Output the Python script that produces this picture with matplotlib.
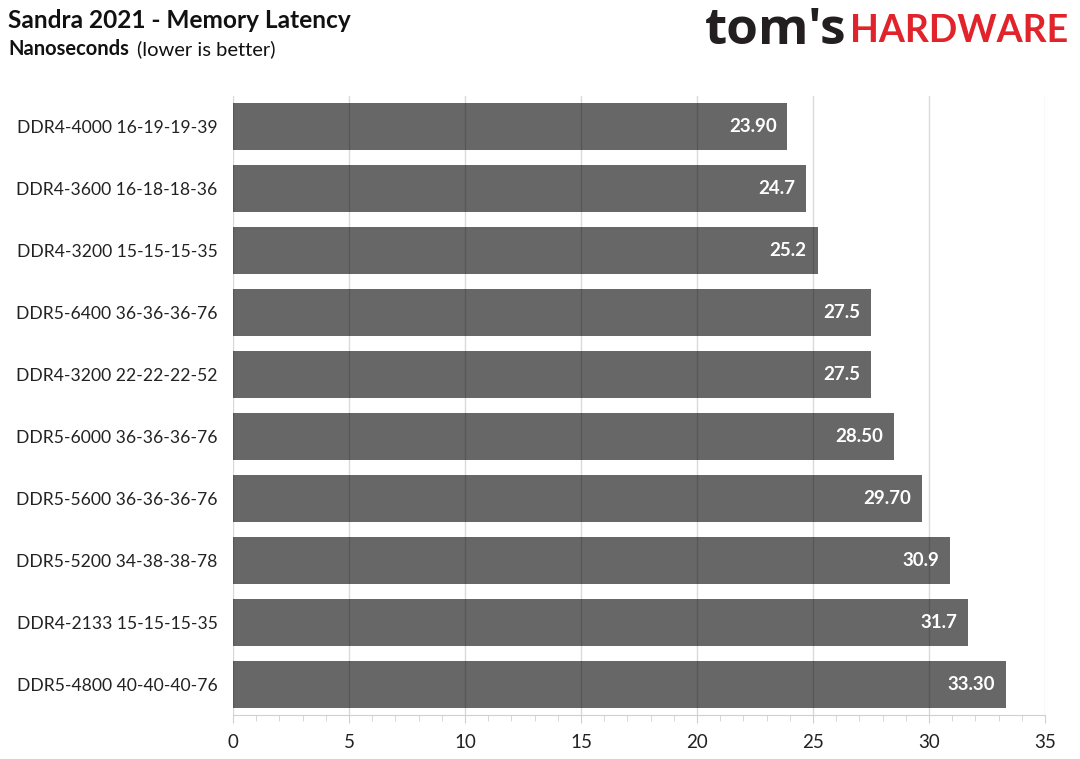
import matplotlib.pyplot as plt
from matplotlib.ticker import MultipleLocator

plt.rcParams['font.family'] = ['Lato', 'DejaVu Sans']

# data, top to bottom as shown
kits = ["DDR4-4000 16-19-19-39", "DDR4-3600 16-18-18-36", "DDR4-3200 15-15-15-35",
        "DDR5-6400 36-36-36-76", "DDR4-3200 22-22-22-52", "DDR5-6000 36-36-36-76",
        "DDR5-5600 36-36-36-76", "DDR5-5200 34-38-38-78", "DDR4-2133 15-15-15-35",
        "DDR5-4800 40-40-40-76"]
latency = [23.90, 24.7, 25.2, 27.5, 27.5, 28.50, 29.70, 30.9, 31.7, 33.30]
value_labels = ["23.90", "24.7", "25.2", "27.5", "27.5", "28.50", "29.70", "30.9", "31.7", "33.30"]
x_ticks = [0, 5, 10, 15, 20, 25, 30, 35]

W, H = 1080, 759
fig = plt.figure(figsize=(W / 100, H / 100), dpi=100)
ax = fig.add_axes([233 / W, 1 - 715 / H, (1045 - 233) / W, (715 - 96) / H])

pos = list(range(len(kits)))
ax.barh(pos, latency, height=0.76, color="#676767", zorder=2)

for p, v, lab in zip(pos, latency, value_labels):
    ax.text(v - 0.47, p, lab, ha="right", va="center", color="white",
            fontsize=13.5, fontweight="bold", zorder=4)

ax.set_ylim(len(kits) - 0.5, -0.5)
ax.set_xlim(0, 35)
ax.set_yticks(pos)
ax.set_yticklabels(kits, fontsize=12.6, color="#222222")
ax.set_xticks(x_ticks)
ax.set_xticklabels([str(t) for t in x_ticks], fontsize=13.5, color="#222222")
ax.xaxis.set_minor_locator(MultipleLocator(1))

# grid drawn over the bars, semi-transparent so it darkens inside them
ax.grid(axis="x", which="major", color="black", alpha=0.15, linewidth=1, zorder=3)
ax.set_axisbelow(False)
for s in ["top", "right", "left"]:
    ax.spines[s].set_visible(False)
ax.spines["bottom"].set_color("#d0d0d0")
ax.tick_params(axis="y", length=0, pad=11)
ax.tick_params(axis="x", which="both", direction="out", color="#d0d0d0", pad=8)
ax.tick_params(axis="x", which="major", length=6)
ax.tick_params(axis="x", which="minor", length=4)

# titles
fig.text(8 / W, 1 - 20 / H, "Sandra 2021 - Memory Latency", fontsize=17.6,
         fontweight="bold", color="#111111", va="center", ha="left")
sub = fig.text(8 / W, 1 - 49 / H, "Nanoseconds", fontsize=14.5,
               fontweight="bold", color="#111111", va="center", ha="left")
fig.canvas.draw()
r = fig.canvas.get_renderer()
bb = sub.get_window_extent(r)
fig.text((bb.x1 + 8) / W, 1 - 49 / H, "(lower is better)", fontsize=14.5,
         color="#111111", va="center", ha="left")

# logo
hw = fig.text(1068 / W, 1 - 31 / H, "HARDWARE", fontsize=27, fontweight="bold",
              color="#e1232b", va="center", ha="right")
bb = hw.get_window_extent(r)
fig.text((bb.x0 - 3) / W, 1 - 31 / H, "tom's", fontsize=37, fontweight="bold",
         family=["Open Sans", "Lato"], color="#231f20", va="center", ha="right")

fig.savefig("out.png", dpi=100)
